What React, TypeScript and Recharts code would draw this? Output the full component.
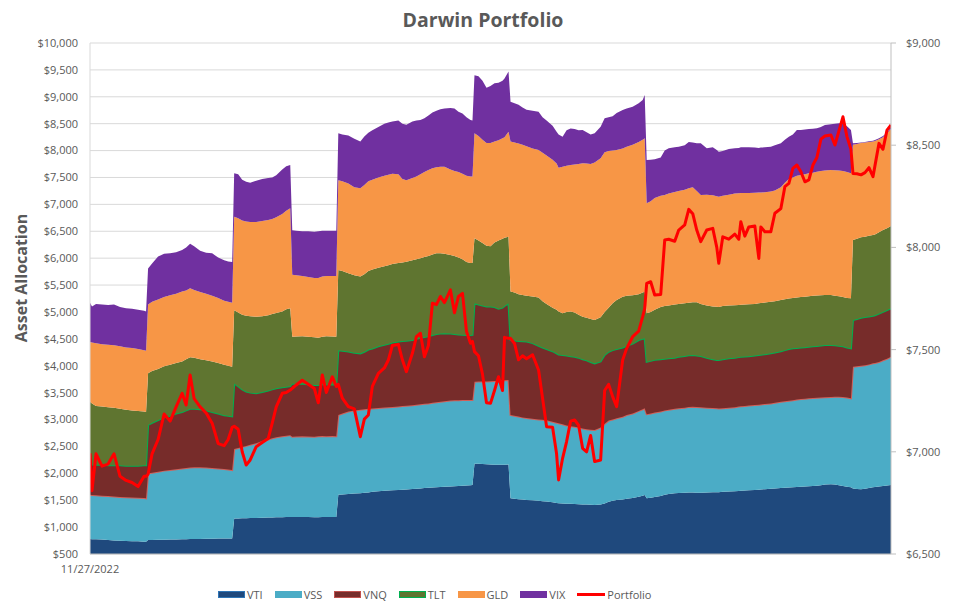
import React from 'react';
import { ComposedChart, Area, Line, XAxis, YAxis, CartesianGrid } from 'recharts';

// day offsets from 11/27/2022
const days = [
  0, 1, 3, 6, 9, 12, 15, 18, 21, 24, 27, 28,
  29, 31, 34, 37, 40, 43, 46, 48, 50, 52, 55, 58, 61, 64, 67, 69, 71,
  72, 74, 76, 78, 80, 83, 86, 89, 91, 93, 96, 98, 100,
  101, 103, 106, 109, 112, 114, 116, 118, 121, 123,
  124, 126, 129, 132, 135, 137, 139, 141, 144, 147, 149, 151, 154, 156, 158, 161, 163, 165, 167, 169, 171, 173, 175, 177, 180, 182, 184, 186, 188, 190, 191,
  192, 194, 196, 198, 200, 202, 204, 206, 207, 209,
  210, 212, 214, 216, 218, 221, 224, 226, 228, 231, 233, 234, 236, 238, 240, 242, 244, 246, 248, 250, 252, 255, 257, 259, 261, 263, 266, 268, 271, 274, 276, 277,
  278, 280, 282, 285, 287, 289, 292, 294, 297, 299, 301, 303, 305, 308, 311, 313, 314, 316, 319, 322, 324, 325, 327, 329, 332, 334, 335, 337, 340, 342, 345, 347, 349, 351, 353, 355, 357, 359, 361, 363, 365, 367, 370, 372, 374, 376, 378, 380,
  381, 383, 385, 387, 389, 391, 392, 394, 396, 398, 400,
];

const vti = [
  780, 775, 775, 770, 760, 750, 745, 740, 735, 735, 730, 730,
  760, 760, 765, 765, 770, 770, 775, 775, 780, 780, 780, 785, 785, 790, 790, 790, 790,
  1160, 1160, 1165, 1165, 1170, 1170, 1175, 1180, 1180, 1185, 1185, 1190, 1190,
  1190, 1190, 1190, 1190, 1185, 1185, 1190, 1190, 1190, 1190,
  1600, 1605, 1615, 1625, 1630, 1640, 1645, 1655, 1665, 1675, 1680, 1685, 1690, 1695, 1700, 1710, 1715, 1720, 1725, 1730, 1735, 1740, 1745, 1750, 1755, 1760, 1765, 1770, 1775, 1780, 1783,
  2180, 2180, 2175, 2170, 2165, 2160, 2160, 2160, 2160, 2165,
  1535, 1525, 1520, 1515, 1505, 1500, 1490, 1480, 1475, 1460, 1450, 1445, 1440, 1435, 1432, 1430, 1425, 1420, 1418, 1415, 1411, 1420, 1440, 1470, 1490, 1504, 1515, 1525, 1540, 1565, 1585, 1597,
  1535, 1545, 1560, 1580, 1600, 1615, 1628, 1635, 1640, 1645, 1645, 1640, 1640, 1645, 1650, 1650, 1650, 1655, 1660, 1665, 1670, 1675, 1680, 1685, 1690, 1695, 1700, 1705, 1715, 1720, 1725, 1730, 1735, 1740, 1745, 1750, 1755, 1760, 1765, 1770, 1780, 1790, 1795, 1790, 1780, 1765, 1750, 1740,
  1720, 1710, 1705, 1715, 1725, 1740, 1745, 1755, 1765, 1775, 1783,
];

const vss = [
  820, 820, 815, 815, 820, 820, 815, 815, 815, 810, 810, 805,
  1240, 1250, 1265, 1285, 1290, 1305, 1315, 1325, 1330, 1335, 1335, 1325, 1315, 1300, 1290, 1280, 1270,
  1290, 1310, 1325, 1345, 1360, 1390, 1425, 1450, 1470, 1485, 1505, 1510, 1520,
  1490, 1495, 1500, 1495, 1495, 1505, 1505, 1500, 1505, 1500,
  1485, 1505, 1535, 1545, 1550, 1550, 1555, 1550, 1550, 1550, 1550, 1550, 1550, 1555, 1555, 1555, 1560, 1565, 1570, 1570, 1575, 1580, 1585, 1590, 1600, 1600, 1595, 1592, 1588, 1583, 1580,
  1520, 1525, 1530, 1535, 1545, 1555, 1560, 1565, 1570, 1570,
  1550, 1545, 1535, 1525, 1525, 1515, 1510, 1515, 1510, 1500, 1490, 1485, 1470, 1455, 1443, 1435, 1425, 1415, 1402, 1395, 1394, 1430, 1480, 1510, 1510, 1521, 1535, 1559, 1570, 1595, 1605, 1611,
  1565, 1565, 1570, 1570, 1570, 1565, 1572, 1575, 1580, 1590, 1593, 1595, 1590, 1575, 1565, 1560, 1555, 1555, 1560, 1565, 1570, 1570, 1570, 1575, 1580, 1580, 1580, 1585, 1585, 1590, 1605, 1610, 1615, 1620, 1625, 1630, 1630, 1634, 1635, 1635, 1630, 1625, 1625, 1635, 1645, 1655, 1660, 1654,
  2262, 2280, 2295, 2295, 2300, 2304, 2305, 2315, 2335, 2355, 2385,
];

const vnq = [
  570, 570, 570, 575, 570, 580, 590, 585, 590, 595, 610, 615,
  900, 930, 960, 990, 1010, 1035, 1050, 1070, 1090, 1085, 1075, 1060, 1040, 1020, 1000, 1000, 1000,
  1220, 1150, 1070, 1010, 970, 930, 910, 910, 910, 910, 910, 910, 910,
  990, 975, 980, 965, 960, 950, 965, 960, 955, 960,
  1205, 1170, 1115, 1070, 1050, 1070, 1100, 1115, 1145, 1165, 1180, 1195, 1210, 1210, 1210, 1215, 1225, 1235, 1240, 1250, 1260, 1270, 1270, 1265, 1245, 1230, 1220, 1213, 1207, 1207, 1212,
  1460, 1435, 1415, 1395, 1390, 1375, 1340, 1355, 1380, 1425,
  1395, 1400, 1405, 1415, 1420, 1405, 1370, 1345, 1325, 1310, 1290, 1280, 1290, 1300, 1300, 1303, 1300, 1285, 1280, 1260, 1239, 1230, 1280, 1280, 1290, 1285, 1290, 1286, 1300, 1318, 1310, 1301,
  975, 980, 980, 970, 960, 957, 950, 955, 960, 960, 962, 955, 950, 930, 905, 896, 901, 910, 920, 920, 920, 920, 920, 915, 920, 925, 925, 925, 930, 935, 940, 950, 960, 963, 960, 960, 960, 960, 960, 960, 965, 970, 965, 955, 945, 940, 930, 929,
  868, 880, 890, 895, 890, 886, 890, 900, 900, 905, 899,
];

const tlt = [
  1160, 1135, 1090, 1080, 1080, 1070, 1050, 1040, 1030, 1020, 1000, 990,
  960, 960, 950, 950, 950, 940, 940, 950, 960, 950, 930, 930, 940, 940, 940, 930, 920,
  1360, 1370, 1390, 1410, 1420, 1420, 1410, 1400, 1400, 1400, 1410, 1440, 1450,
  870, 885, 880, 890, 890, 880, 880, 900, 895, 890,
  1490, 1480, 1455, 1440, 1430, 1440, 1460, 1470, 1460, 1460, 1460, 1460, 1460, 1460, 1470, 1480, 1480, 1480, 1485, 1490, 1500, 1500, 1490, 1475, 1460, 1450, 1430, 1405, 1360, 1340, 1335,
  1210, 1190, 1160, 1130, 1120, 1200, 1270, 1280, 1270, 1240,
  900, 890, 870, 860, 850, 865, 900, 860, 840, 810, 810, 800, 775, 810, 835, 822, 800, 792, 790, 800, 806, 820, 800, 820, 871, 910, 944, 930, 900, 852, 860, 868,
  899, 910, 930, 970, 980, 983, 990, 985, 980, 975, 980, 990, 970, 970, 980, 992, 984, 990, 980, 975, 970, 970, 970, 970, 960, 960, 960, 960, 960, 955, 952, 945, 940, 937, 940, 940, 939, 936, 940, 940, 935, 930, 930, 920, 920, 920, 920, 930,
  1487, 1490, 1500, 1495, 1500, 1500, 1500, 1510, 1523, 1520, 1533,
];

const gld = [
  1110, 1130, 1170, 1160, 1160, 1160, 1160, 1160, 1160, 1150, 1140, 1140,
  1280, 1290, 1290, 1290, 1290, 1290, 1300, 1280, 1280, 1260, 1250, 1240, 1220, 1210, 1190, 1190, 1190,
  1740, 1750, 1750, 1750, 1750, 1760, 1770, 1770, 1770, 1780, 1810, 1830, 1860,
  1150, 1135, 1120, 1110, 1100, 1110, 1120, 1120, 1125, 1130,
  1670, 1670, 1670, 1640, 1640, 1660, 1670, 1670, 1680, 1680, 1680, 1680, 1650, 1550, 1515, 1530, 1540, 1560, 1580, 1600, 1600, 1600, 1610, 1620, 1590, 1580, 1590, 1590, 1600, 1610, 1610,
  1950, 1940, 1920, 1910, 1920, 1880, 1860, 1870, 1870, 1950,
  2790, 2790, 2800, 2795, 2780, 2755, 2740, 2760, 2760, 2750, 2720, 2670, 2725, 2720, 2720, 2750, 2800, 2851, 2870, 2880, 2930, 2956, 2970, 2910, 2839, 2790, 2756, 2770, 2800, 2830, 2840, 2850,
  2046, 2060, 2080, 2070, 2064, 2080, 2090, 2100, 2110, 2130, 2140, 2070, 2024, 2060, 2070, 2052, 2053, 2050, 2060, 2075, 2076, 2075, 2070, 2065, 2065, 2060, 2055, 2050, 2047, 2060, 2098, 2165, 2220, 2240, 2260, 2266, 2276, 2290, 2290, 2303, 2310, 2315, 2324, 2335, 2340, 2340, 2340, 2324,
  1773, 1760, 1750, 1750, 1745, 1740, 1740, 1730, 1727, 1765, 1800,
];

const vix = [
  730, 670, 730, 740, 740, 760, 730, 730, 730, 730, 730, 730,
  670, 710, 800, 800, 780, 770, 770, 800, 830, 810, 770, 760, 790, 750, 750, 750, 760,
  810, 820, 760, 740, 730, 770, 780, 780, 770, 780, 830, 830, 800,
  830, 830, 830, 850, 860, 870, 850, 840, 840, 840,
  870, 870, 890, 900, 870, 900, 900, 920, 940, 970, 970, 970, 1000, 1030, 1030, 1050, 1040, 1010, 1000, 1010, 1040, 1050, 1070, 1080, 1140, 1160, 1120, 1120, 1090, 1050, 1040,
  1080, 1110, 1100, 1030, 1060, 1080, 1070, 1070, 1090, 1120,
  740, 730, 720, 690, 680, 700, 710, 660, 650, 630, 590, 620, 558, 660, 680, 660, 630, 619, 580, 550, 540, 588, 630, 630, 640, 690, 714, 710, 706, 720, 740, 806,
  805, 770, 720, 710, 826, 841, 830, 822, 830, 860, 830, 885, 961, 861, 890, 860, 837, 830, 850, 841, 844, 850, 850, 850, 840, 830, 835, 835, 835, 840, 815, 800, 788, 800, 852, 836, 830, 820, 815, 805, 820, 845, 851, 865, 876, 886, 850, 805,
  25, 20, 10, 10, 15, 15, 16, 20, 20, 10, 40,
];

const portfolio = [
  6993, 6810, 6990, 6930, 6940, 6990, 6880, 6860, 6850, 6830, 6880, 6880,
  6890, 6990, 7060, 7185, 7150, 7220, 7286, 7229, 7376, 7260, 7220, 7190, 7140, 7040, 7030, 7060, 7120,
  7125, 7110, 7000, 6935, 6960, 7025, 7045, 7065, 7140, 7220, 7286, 7290, 7302,
  7310, 7327, 7350, 7330, 7310, 7240, 7376, 7290, 7367, 7320,
  7330, 7262, 7221, 7210, 7074, 7160, 7180, 7320, 7384, 7410, 7449, 7520, 7525, 7450, 7392, 7482, 7563, 7580, 7465, 7520, 7727, 7720, 7760, 7730, 7792, 7680, 7760, 7775, 7590, 7531, 7540,
  7490, 7470, 7380, 7240, 7237, 7300, 7367, 7300, 7560, 7555,
  7555, 7530, 7450, 7470, 7455, 7475, 7400, 7262, 7123, 7120, 6990, 6862, 6968, 7050, 7150, 7156, 7130, 7017, 7000, 7080, 6952, 6960, 7300, 7330, 7270, 7221, 7449, 7506, 7563, 7590, 7661, 7700,
  7824, 7832, 7767, 7770, 8036, 8040, 8030, 8085, 8110, 8186, 8165, 8085, 8028, 8085, 8093, 8000, 7922, 8052, 8040, 8065, 8040, 8126, 8055, 8100, 8105, 7946, 8100, 8077, 8077, 8167, 8190, 8297, 8313, 8387, 8403, 8370, 8321, 8330, 8403, 8440, 8530, 8545, 8550, 8501, 8570, 8639, 8542, 8480,
  8362, 8360, 8355, 8366, 8390, 8346, 8400, 8509, 8480, 8574, 8599,
];

const xTicks = [0];
const xTickLabels = ['11/27/2022'];
const leftTicks = [500, 1000, 1500, 2000, 2500, 3000, 3500, 4000, 4500, 5000, 5500, 6000, 6500, 7000, 7500, 8000, 8500, 9000, 9500, 10000];
const rightTicks = [6500, 7000, 7500, 8000, 8500, 9000];

const rows = days.map((d, i) => ({
  day: d,
  VTI: vti[i],
  VSS: vss[i],
  VNQ: vnq[i],
  TLT: tlt[i],
  GLD: gld[i],
  VIX: vix[i],
  Portfolio: portfolio[i],
}));

const FONT = "'Open Sans', 'Noto Sans', sans-serif";
const TEXT = '#595959';

const series = [
  { key: 'VTI', fill: '#1F497D', stroke: '#1F497D', border: '#2E75B6', sw: 0 },
  { key: 'VSS', fill: '#4BACC6', stroke: '#D0605A', border: '#4BACC6', sw: 2 },
  { key: 'VNQ', fill: '#772C2A', stroke: '#00B050', border: '#C0504D', sw: 2 },
  { key: 'TLT', fill: '#5F7530', stroke: '#5F7530', border: '#00B050', sw: 0 },
  { key: 'GLD', fill: '#F79646', stroke: '#F79646', border: '#F79646', sw: 0 },
  { key: 'VIX', fill: '#7030A0', stroke: '#7030A0', border: '#7030A0', sw: 0 },
];

const fmt = (v: number) => '$' + v.toLocaleString('en-US');
const tickStyle = { fill: TEXT, fontSize: 11, fontFamily: FONT };

export default function App() {
  return (
    <div style={{ position: 'absolute', left: 0, top: 0, width: 963, height: 609, background: '#fff', fontFamily: FONT }}>
      <ComposedChart width={963} height={609} data={rows} margin={{ top: 43, right: 12, bottom: 25, left: 30 }}>
        <CartesianGrid vertical={false} stroke="#D9D9D9" yAxisId="left" />
        <XAxis
          dataKey="day"
          type="number"
          domain={[0, 400]}
          ticks={xTicks}
          tickFormatter={(v: number) => xTickLabels[xTicks.indexOf(v)] ?? ''}
          tickLine={false}
          axisLine={{ stroke: '#BFBFBF' }}
          tick={tickStyle}
          tickSize={6}
          tickMargin={5}
          height={30}
          allowDataOverflow
        />
        <YAxis
          yAxisId="left"
          domain={[500, 10000]}
          ticks={leftTicks}
          interval={0}
          allowDataOverflow
          tickFormatter={fmt}
          tickLine={false}
          axisLine={{ stroke: '#D9D9D9' }}
          tick={tickStyle}
          tickSize={6}
          tickMargin={6}
          width={60}
        />
        <YAxis
          yAxisId="right"
          orientation="right"
          domain={[6500, 9000]}
          ticks={rightTicks}
          interval={0}
          allowDataOverflow
          tickFormatter={fmt}
          tickLine={{ stroke: '#BFBFBF' }}
          axisLine={{ stroke: '#BFBFBF' }}
          tick={tickStyle}
          tickSize={5}
          tickMargin={10}
          width={60}
        />
        {series.map((s) => (
          <Area
            key={s.key}
            yAxisId="left"
            dataKey={s.key}
            stackId="assets"
            type="linear"
            fill={s.fill}
            fillOpacity={1}
            stroke={s.stroke}
            strokeWidth={s.sw}
            dot={false}
            activeDot={false}
            isAnimationActive={false}
          />
        ))}
        <Line
          yAxisId="right"
          dataKey="Portfolio"
          type="linear"
          stroke="#FF0000"
          strokeWidth={3}
          strokeLinejoin="round"
          dot={false}
          activeDot={false}
          isAnimationActive={false}
        />
      </ComposedChart>

      <svg width={963} height={609} style={{ position: 'absolute', left: 0, top: 0, pointerEvents: 'none' }}>
        <text x={483} y={27} textAnchor="middle" fontFamily={FONT} fontWeight="bold" fontSize={19.5} fill={TEXT}>
          Darwin Portfolio
        </text>
        <text
          transform="translate(27, 278) rotate(-90)"
          textAnchor="middle"
          fontFamily={FONT}
          fontWeight="bold"
          fontSize={16}
          fill={TEXT}
        >
          Asset Allocation
        </text>
      </svg>

      <div
        style={{
          position: 'absolute',
          left: 218,
          top: 586,
          height: 16,
          display: 'flex',
          alignItems: 'center',
          fontSize: 11,
          color: TEXT,
          fontFamily: FONT,
          whiteSpace: 'nowrap',
        }}
      >
        {series.map((s) => (
          <div key={s.key} style={{ display: 'flex', alignItems: 'center', marginRight: 12 }}>
            <div
              style={{
                width: 25,
                height: 5,
                background: s.fill,
                border: `1px solid ${s.border}`,
                marginRight: 2,
              }}
            />
            <span>{s.key}</span>
          </div>
        ))}
        <div style={{ display: 'flex', alignItems: 'center' }}>
          <div style={{ width: 28, height: 3, background: '#FF0000', marginRight: 2 }} />
          <span>Portfolio</span>
        </div>
      </div>
    </div>
  );
}
